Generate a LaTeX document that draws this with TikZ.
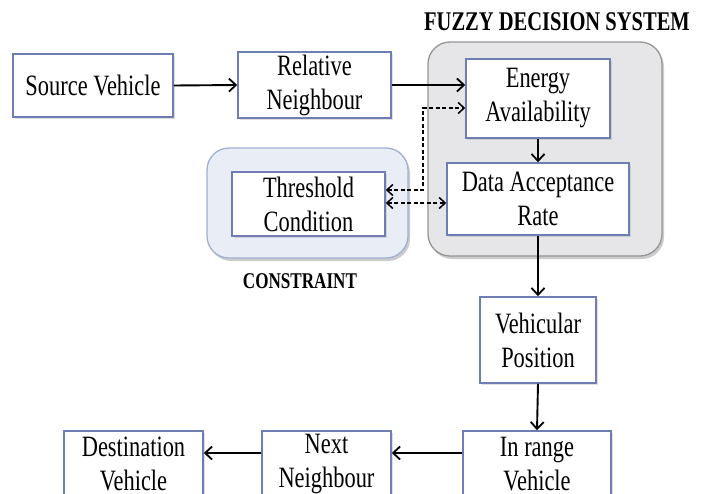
\documentclass[tikz,border=0pt]{standalone}
\usepackage{fontspec}
\setmainfont[FakeStretch=0.76]{Liberation Serif}
\usetikzlibrary{arrows.meta,shadows}
\definecolor{boxblue}{RGB}{110,125,180}
\definecolor{cfill}{RGB}{233,238,246}
\definecolor{cdraw}{RGB}{160,176,210}
\definecolor{ffill}{RGB}{230,230,232}
\definecolor{fdraw}{RGB}{150,150,150}
\tikzset{
  stepbox/.style={draw=boxblue, line width=1.5pt, fill=white, align=center, inner sep=0pt,
    font=\fontsize{29.5}{34}\selectfont, drop shadow={opacity=0.25, shadow xshift=1.5pt, shadow yshift=-1.5pt}},
  groupbox/.style={rounded corners=22pt, line width=1.3pt, drop shadow={opacity=0.4, shadow xshift=2pt, shadow yshift=-3pt}},
  flow/.style={line width=1.9pt, -{Straight Barb[length=7pt,width=13pt,line width=1.8pt]}},
  dflow/.style={line width=1.5pt, dashed, dash pattern=on 4pt off 2.5pt, {Straight Barb[length=6pt,width=11pt,line width=1.5pt]}-{Straight Barb[length=6pt,width=11pt,line width=1.5pt]}},
  grouplabel/.style={font=\bfseries}
}
\begin{document}
\begin{tikzpicture}[x=1pt,y=-1pt]
\useasboundingbox (0,0) rectangle (704,493);
\clip (0,0) rectangle (704,493);
\fill[white] (0,0) rectangle (704,493);
% group containers
\draw[groupbox, fill=ffill, draw=fdraw] (428,42) rectangle (662,256);
\draw[groupbox, fill=cfill, draw=cdraw] (207,148) rectangle (408,258);
\node[grouplabel, font=\bfseries\fontsize{27}{30}\selectfont] (fuzzylbl) at (557,22) {FUZZY DECISION SYSTEM};
\node[grouplabel, font=\bfseries\fontsize{22.5}{26}\selectfont] (conslbl) at (300,281) {CONSTRAINT};
% nodes
\node[stepbox, minimum width=160pt, minimum height=63pt] (src) at (93,85.5) {Source Vehicle};
\node[stepbox, minimum width=153pt, minimum height=66pt] (rel) at (314.5,85) {Relative\\Neighbour};
\node[stepbox, minimum width=144pt, minimum height=79pt] (en) at (538,98.5) {Energy\\Availability};
\node[stepbox, minimum width=182pt, minimum height=72pt] (dar) at (538,199) {Data Acceptance\\Rate};
\node[stepbox, minimum width=153pt, minimum height=64pt] (thr) at (308.5,204) {Threshold\\Condition};
\node[stepbox, minimum width=116pt, minimum height=86pt] (vp) at (538,340) {Vehicular\\Position};
\node[stepbox, minimum width=148pt, minimum height=66pt] (irv) at (537,464) {In range\\Vehicle};
\node[stepbox, minimum width=129pt, minimum height=66pt] (nn) at (326.5,464) {Next\\Neighbour};
\node[stepbox, minimum width=139pt, minimum height=66pt] (dv) at (133.5,464) {Destination\\Vehicle};
% connectors
\draw[flow] (src.east) -- (rel.west);
\draw[flow] (rel.east) -- (rel.east -| en.west);
\draw[flow] (en.south) -- (dar.north);
\draw[flow] (dar.south) -- (vp.north);
\draw[flow] (vp.south) -- (irv.north);
\draw[flow] (irv.west |- 0,453) -- (nn.east |- 0,453);
\draw[flow] (nn.west |- 0,453) -- (dv.east |- 0,453);
\coordinate (dk1) at (423,190);
\coordinate (dk2) at (423,108);
\draw[dflow] (thr.east |- dk1) -- (dk1) -- (dk2) -- (en.west |- dk2);
\draw[dflow] (thr.east |- 0,203) -- (dar.west |- 0,203);
\end{tikzpicture}
\end{document}
